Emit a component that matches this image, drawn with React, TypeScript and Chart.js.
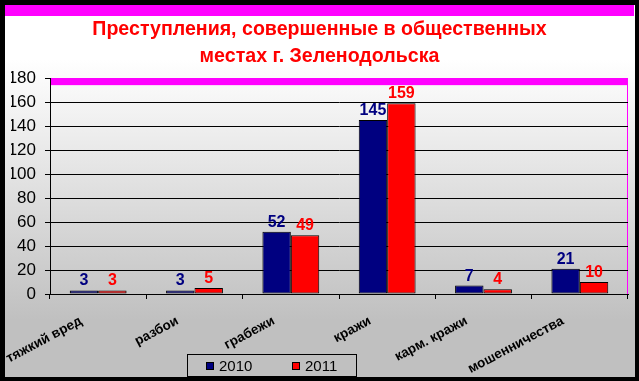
import React, { useEffect, useRef } from 'react';
import { Chart, registerables } from 'chart.js';

Chart.register(...registerables);

const categories = ['тяжкий вред', 'разбои', 'грабежи', 'кражи', 'карм. кражи', 'мошенничества'];
const seriesNames = ['2010', '2011'];
const values2010 = [3, 3, 52, 145, 7, 21];
const values2011 = [3, 5, 49, 159, 4, 10];
const seriesColors = ['#000080', '#FF0000'];
const titleLines = ['Преступления, совершенные в общественных', 'местах г. Зеленодольска'];
const yMin = 0;
const yMax = 180;
const yStep = 20;

const MAGENTA = '#FF00FF';

const decorPlugin = {
  id: 'decor',
  beforeDraw(chart: any) {
    const { ctx, width, height } = chart;
    ctx.save();
    const g = ctx.createLinearGradient(0, 60, 0, 320);
    g.addColorStop(0, '#ffffff');
    g.addColorStop(1, '#c0c0c0');
    ctx.fillStyle = g;
    ctx.fillRect(0, 0, width, height);
    ctx.fillStyle = MAGENTA;
    ctx.fillRect(5, 5, width - 10, 11);
    ctx.restore();
  },
  beforeDatasetsDraw(chart: any) {
    const { ctx, chartArea } = chart;
    const y = chart.scales.y.getPixelForValue(yMax);
    ctx.save();
    ctx.fillStyle = MAGENTA;
    ctx.fillRect(chartArea.left + 1, y, chartArea.right - chartArea.left - 1, 7);
    ctx.restore();
  },
  afterDatasetsDraw(chart: any) {
    const { ctx } = chart;
    ctx.save();
    ctx.font = 'bold 16px Arial, "Liberation Sans", sans-serif';
    ctx.textAlign = 'center';
    ctx.textBaseline = 'alphabetic';
    chart.data.datasets.forEach((ds: any, di: number) => {
      const meta = chart.getDatasetMeta(di);
      ctx.fillStyle = ds.backgroundColor;
      meta.data.forEach((el: any, i: number) => {
        ctx.fillText(String(ds.data[i]), el.x, el.y - 5);
      });
    });
    ctx.restore();
  },
  afterDraw(chart: any) {
    const { ctx, width, height } = chart;
    ctx.save();
    // legend
    const lx = 187, ly = 354, lw = 169, lh = 22;
    ctx.strokeStyle = '#000';
    ctx.lineWidth = 1;
    ctx.strokeRect(lx + 0.5, ly + 0.5, lw, lh);
    ctx.font = '15px Arial, "Liberation Sans", sans-serif';
    ctx.textBaseline = 'middle';
    ctx.textAlign = 'left';
    const itemX = [206, 292];
    chart.data.datasets.forEach((ds: any, di: number) => {
      const x = itemX[di];
      ctx.fillStyle = ds.backgroundColor;
      ctx.fillRect(x, 362, 8, 8);
      ctx.strokeRect(x + 0.5, 362.5, 7, 7);
      ctx.fillStyle = '#000';
      ctx.fillText(ds.label, x + 13, 367);
    });
    // outer black frame
    ctx.fillStyle = '#000';
    ctx.fillRect(0, 0, width, 5);
    ctx.fillRect(0, 0, 5, height);
    ctx.fillRect(width - 4, 0, 4, height);
    ctx.fillRect(0, height - 4, width, 4);
    ctx.restore();
  },
};

export default function App() {
  const ref = useRef<HTMLCanvasElement | null>(null);

  useEffect(() => {
    document.body.style.margin = '0';
    const canvas = ref.current;
    if (!canvas) return;
    const chart = new Chart(canvas, {
      type: 'bar',
      data: {
        labels: categories,
        datasets: [
          {
            label: seriesNames[0],
            data: values2010,
            backgroundColor: seriesColors[0],
            borderColor: '#000',
            borderWidth: 1,
            borderSkipped: false,
            categoryPercentage: 0.59,
            barPercentage: 1,
          },
          {
            label: seriesNames[1],
            data: values2011,
            backgroundColor: seriesColors[1],
            borderColor: '#000',
            borderWidth: 1,
            borderSkipped: false,
            categoryPercentage: 0.59,
            barPercentage: 1,
          },
        ],
      },
      options: {
        responsive: false,
        animation: false,
        devicePixelRatio: 1,
        layout: { padding: { top: 16, left: 11, right: 11, bottom: 0 } },
        plugins: {
          legend: { display: false },
          tooltip: { enabled: false },
          title: {
            display: true,
            text: titleLines,
            color: '#FF0000',
            font: { family: 'Arial, "Liberation Sans", sans-serif', size: 19.6, weight: 'bold', lineHeight: 1.33 },
            padding: { top: 1, bottom: 9 },
          },
        },
        scales: {
          x: {
            afterFit: (s: any) => {
              s.height = 87;
            },
            grid: {
              offset: true,
              drawOnChartArea: true,
              color: (c: any) => (c.index === undefined ? MAGENTA : 'rgba(0,0,0,0)'),
              lineWidth: 1,
              tickLength: 5,
              tickColor: '#000',
              tickWidth: 1,
            },
            border: { display: true, color: '#000', width: 1 },
            ticks: {
              color: '#000',
              font: { family: 'Arial, "Liberation Sans", sans-serif', size: 13.5, weight: 'bold' },
              minRotation: 28,
              maxRotation: 28,
              autoSkip: false,
              labelOffset: -17,
              padding: 14,
            },
          },
          y: {
            min: yMin,
            max: yMax,
            afterFit: (s: any) => {
              s.width = 39;
            },
            grid: {
              color: (c: any) => (c.tick && c.tick.value === yMax ? MAGENTA : '#000'),
              lineWidth: 1,
              tickLength: 5,
              tickColor: '#000',
              tickWidth: 1,
            },
            border: { display: true, color: '#000', width: 1 },
            ticks: {
              stepSize: yStep,
              color: '#000',
              font: { family: 'Arial, "Liberation Sans", sans-serif', size: 17 },
              padding: 9,
            },
          },
        },
      },
      plugins: [decorPlugin],
    } as any);
    return () => chart.destroy();
  }, []);

  return (
    <div style={{ width: 639, height: 381 }}>
      <canvas ref={ref} width={639} height={381} style={{ width: 639, height: 381, display: 'block' }} />
    </div>
  );
}
